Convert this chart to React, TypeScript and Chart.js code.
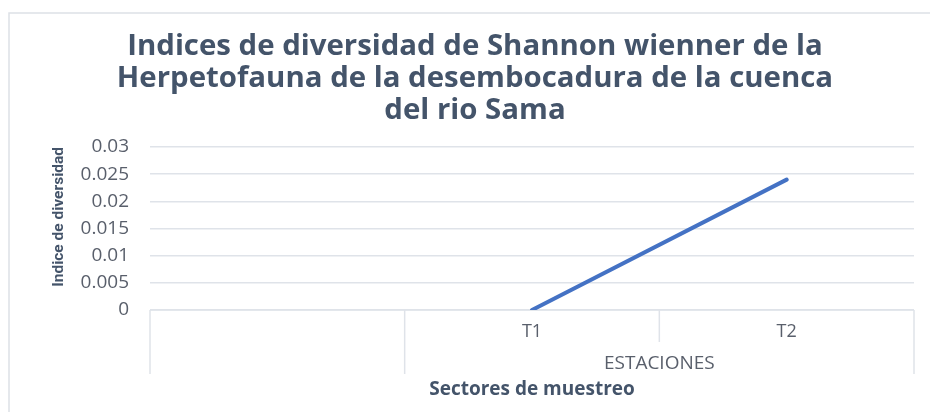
import React, { useEffect, useRef } from "react";
import { Chart, registerables } from "chart.js";

Chart.register(...registerables);

// ---- data ----
const titleLines = [
  "Indices de diversidad de Shannon wienner de la",
  "Herpetofauna de la desembocadura de la cuenca",
  "del rio Sama",
];
const categories = ["", "T1", "T2"];
const diversity: (number | null)[] = [null, 0, 0.024];
const groupLabels = ["", "ESTACIONES"];
const groupStarts = [0, 1];
const groupEnds = [0, 2];
const yMin = 0;
const yMax = 0.03;
const yStep = 0.005;
const yTitle = "Indice de diversidad";
const xTitle = "Sectores de muestreo";

const gridColor = "#dfe3e9";
const textColor = "#44546a";
const tickColor = "#595f6b";

const framePlugin = {
  id: "frame",
  beforeDraw(chart: any) {
    const ctx = chart.ctx;
    ctx.save();
    ctx.fillStyle = "#ffffff";
    ctx.fillRect(0, 0, chart.width, chart.height);
    ctx.strokeStyle = "#dde1e6";
    ctx.lineWidth = 1.5;
    ctx.beginPath();
    ctx.moveTo(9, chart.height);
    ctx.lineTo(9, 13);
    ctx.lineTo(chart.width, 13);
    ctx.stroke();
    ctx.restore();
  },
};

const catAxisPlugin = {
  id: "catAxis",
  beforeDatasetsDraw(chart: any) {
    const ctx = chart.ctx;
    const xs = chart.scales.x;
    const { left, right, bottom } = chart.chartArea;
    const n = categories.length;
    const w = (right - left) / n;
    const edges = new Set<number>();
    groupStarts.forEach((s, i) => {
      edges.add(s);
      edges.add(groupEnds[i] + 1);
    });
    ctx.save();
    ctx.strokeStyle = gridColor;
    ctx.lineWidth = 1.5;
    ctx.beginPath();
    ctx.moveTo(left, bottom);
    ctx.lineTo(right, bottom);
    for (let i = 0; i <= n; i++) {
      const bx = left + i * w;
      const len = edges.has(i) ? 64 : 32;
      ctx.moveTo(bx, bottom);
      ctx.lineTo(bx, bottom + len);
    }
    ctx.stroke();
    ctx.fillStyle = tickColor;
    ctx.font = "19px 'Open Sans'";
    ctx.textAlign = "center";
    ctx.textBaseline = "middle";
    groupLabels.forEach((lab, i) => {
      if (!lab) return;
      const cx = (xs.getPixelForValue(groupStarts[i]) + xs.getPixelForValue(groupEnds[i])) / 2;
      ctx.fillText(lab, cx, bottom + 54);
    });
    ctx.restore();
  },
};

export default function App() {
  const ref = useRef<HTMLCanvasElement>(null);
  useEffect(() => {
    if (!ref.current) return;
    const chart = new Chart(ref.current, {
      type: "line",
      data: {
        labels: categories,
        datasets: [
          {
            data: diversity,
            borderColor: "#4472c4",
            borderWidth: 4,
            borderCapStyle: "round",
            pointRadius: 0,
            tension: 0,
            fill: false,
          },
        ],
      },
      plugins: [framePlugin, catAxisPlugin],
      options: {
        responsive: false,
        animation: false,
        layout: { padding: { left: 36, right: 16, top: 0, bottom: 0 } },
        plugins: {
          legend: { display: false },
          tooltip: { enabled: false },
          title: {
            display: true,
            text: titleLines,
            color: textColor,
            font: { family: "'Open Sans'", size: 29.4, weight: "bold", lineHeight: 1.1 },
            padding: { top: 30, bottom: 20 },
          },
        },
        scales: {
          x: {
            type: "category",
            offset: true,
            grid: { display: false, drawTicks: false },
            border: { display: false },
            ticks: {
              color: tickColor,
              font: { family: "'Open Sans'", size: 18 },
              padding: 11,
              autoSkip: false,
              maxRotation: 0,
            },
            title: {
              display: true,
              text: xTitle,
              color: textColor,
              font: { family: "'Open Sans'", size: 19, weight: "bold", lineHeight: 1.2 },
              padding: { top: 0, bottom: 11 },
            },
            afterFit(scale: any) {
              scale.height = 102;
            },
          },
          y: {
            min: yMin,
            max: yMax,
            grid: { color: gridColor, lineWidth: 1.5, drawTicks: false },
            border: { display: false },
            ticks: {
              stepSize: yStep,
              color: tickColor,
              font: { family: "'Open Sans'", size: 19 },
              padding: 21,
              callback: (v: any) => String(+Number(v).toFixed(3)),
            },
            title: {
              display: true,
              text: yTitle,
              align: "end",
              color: textColor,
              font: { family: "Roboto", size: 15.5, weight: "bold", lineHeight: 1.2 },
              padding: { top: 14, bottom: 0 },
            },
            afterFit(scale: any) {
              scale.width = 114;
            },
          },
        },
      },
    });
    return () => chart.destroy();
  }, []);
  return (
    <div style={{ position: "absolute", left: 0, top: 0, width: 930, height: 412 }}>
      <canvas ref={ref} width={930} height={412} />
    </div>
  );
}
